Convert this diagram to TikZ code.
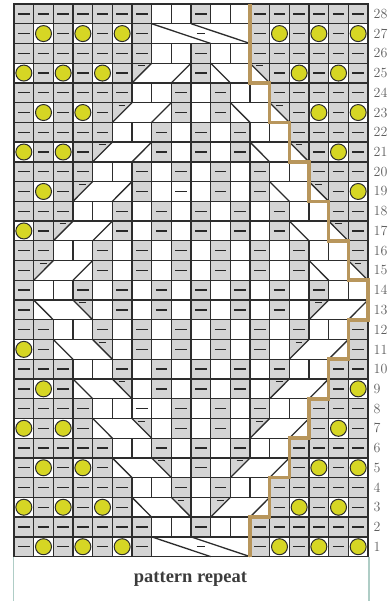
\documentclass[tikz,border=0pt]{standalone}
\usepackage{fontspec}
\newfontfamily\labelfont{Liberation Serif}
\definecolor{purlgray}{RGB}{212,212,212}
\definecolor{gridc}{RGB}{45,45,45}
\definecolor{dashc}{RGB}{40,40,40}
\definecolor{bobc}{RGB}{214,214,36}
\definecolor{goldc}{RGB}{184,150,92}
\definecolor{numc}{RGB}{95,95,95}
\definecolor{framec}{RGB}{175,205,198}
\definecolor{labelc}{RGB}{60,60,60}
\tikzset{
  purlfill/.style={fill=purlgray},
  gridline/.style={draw=gridc, line width=1.3pt},
  borderline/.style={draw=gridc, line width=1.6pt},
  dashmk/.style={draw=dashc, line width=1.4pt},
  smalldash/.style={draw=dashc, line width=1.1pt},
  bobble/.style={fill=bobc, draw=gridc, line width=1pt},
  cableline/.style={draw=gridc, line width=1.3pt},
  repeatline/.style={draw=goldc, line width=3.6pt, line join=miter},
  rownum/.style={anchor=west, text=numc, font=\fontsize{14}{14}\selectfont, inner sep=0pt},
  framel/.style={draw=framec, line width=1.5pt},
}
\newcommand\kcpos[2]{\pgfmathsetmacro\xa{14+(#1-1)*19.667}\pgfmathsetmacro\ya{44.4+(#2-1)*19.736}}
\newcommand\kcP[2]{\kcpos{#1}{#2}\fill[purlfill] (\xa,\ya) rectangle ++(19.667,19.736);\draw[dashmk] (\xa+4.08,\ya+9.87) -- ++(11.5,0);}
\newcommand\kcK[2]{}
\newcommand\kcX[2]{}
\newcommand\kcW[2]{\kcpos{#1}{#2}\draw[dashmk] (\xa+4.08,\ya+9.87) -- ++(11.5,0);}
\newcommand\kcB[2]{\kcpos{#1}{#2}\draw[bobble] (\xa+9.83,\ya+9.87) circle[radius=8];}
\newcommand\kcL[2]{\kcpos{#1}{#2}\fill[purlfill] (\xa,\ya) -- (\xa+19.667,\ya+19.736) -- (\xa,\ya+19.736) -- cycle; \draw[cableline] (\xa,\ya) -- (\xa+19.667,\ya+19.736); \draw[cableline] (\xa+39.333,\ya) -- (\xa+59,\ya+19.736); \draw[smalldash] (\xa+6.3,\ya+17) -- ++(6.7,0);}
\newcommand\kcR[2]{\kcpos{#1}{#2}\fill[purlfill] (\xa+39.333,\ya+19.736) -- (\xa+59,\ya+19.736) -- (\xa+59,\ya) -- cycle; \draw[cableline] (\xa,\ya+19.736) -- (\xa+19.667,\ya); \draw[cableline] (\xa+39.333,\ya+19.736) -- (\xa+59,\ya); \draw[smalldash] (\xa+45.6,\ya+17) -- ++(6.7,0);}
\newcommand\kcF[2]{\kcpos{#1}{#2}\draw[cableline] (\xa,\ya+19.736) -- (\xa+59,\ya); \draw[cableline] (\xa+39.333,\ya+19.736) -- (\xa+98.333,\ya); \draw[smalldash] (\xa+45.1,\ya+9.87) -- ++(8.2,0);}
\newcommand\kvline[2]{\kcpos{#1}{#2}\draw[gridline] (\xa,\ya) -- ++(0,19.736);}
\let\kvP\kvline \let\kvK\kvline \let\kvB\kvline \let\kvW\kvline
\let\kvL\kvline \let\kvR\kvline \let\kvF\kvline
\newcommand\kvX[2]{}
\newcommand\chartrows{%
28/{P,P,P,P,P,P,P,K,K,P,K,K,P,P,P,P,P,P},
27/{P,B,P,B,P,B,P,F,X,X,X,X,P,B,P,B,P,B},
26/{P,P,P,P,P,P,P,K,K,P,K,K,P,P,P,P,P,P},
25/{B,P,B,P,B,P,L,X,X,P,R,X,X,P,B,P,B,P},
24/{P,P,P,P,P,P,K,K,P,K,P,K,K,P,P,P,P,P},
23/{P,B,P,B,P,L,X,X,P,K,P,R,X,X,P,B,P,B},
22/{P,P,P,P,P,K,K,P,K,P,K,P,K,K,P,P,P,P},
21/{B,P,B,P,L,X,X,P,K,P,K,P,R,X,X,P,B,P},
20/{P,P,P,P,K,K,P,K,P,K,P,K,P,K,K,P,P,P},
19/{P,B,P,L,X,X,P,K,W,K,P,K,P,R,X,X,P,B},
18/{P,P,P,K,K,P,K,P,K,P,K,P,K,P,K,K,P,P},
17/{B,P,L,X,X,P,K,P,K,P,K,P,K,P,R,X,X,P},
16/{P,P,K,K,P,K,P,K,P,K,P,K,P,K,P,K,K,P},
15/{P,L,X,X,P,K,P,K,P,K,P,K,P,K,P,R,X,X},
14/{P,K,K,P,K,P,K,P,K,P,K,P,K,P,K,P,K,K},
13/{P,R,X,X,K,P,K,P,K,P,K,P,K,P,K,L,X,X},
12/{P,P,K,K,P,K,P,K,P,K,P,K,P,K,P,K,K,P},
11/{B,P,R,X,X,K,P,K,P,K,P,K,P,K,L,X,X,P},
10/{P,P,P,K,K,P,K,P,K,P,K,P,K,P,K,K,P,P},
9/{P,B,P,R,X,X,K,P,K,P,K,P,K,L,X,X,P,B},
8/{P,P,P,P,K,K,W,K,P,K,P,K,P,K,K,P,P,P},
7/{B,P,B,P,R,X,X,K,P,K,P,K,L,X,X,P,B,P},
6/{P,P,P,P,P,K,K,P,K,P,K,P,K,K,P,P,P,P},
5/{P,B,P,B,P,R,X,X,K,P,K,L,X,X,P,B,P,B},
4/{P,P,P,P,P,P,K,K,P,K,P,K,K,P,P,P,P,P},
3/{B,P,B,P,B,P,R,X,X,K,L,X,X,P,B,P,B,P},
2/{P,P,P,P,P,P,P,K,K,P,K,K,P,P,P,P,P,P},
1/{P,B,P,B,P,B,P,F,X,X,X,X,P,B,P,B,P,B}}
\newcommand\gx[1]{14+#1*19.667}
\begin{document}
\begin{tikzpicture}[x=1pt,y=1pt]
\useasboundingbox (0,0) rectangle (389,601);
\fill[white] (0,0) rectangle (389,601);
% cell contents
\foreach \r/\codes in \chartrows {
  \foreach \c [count=\i] in \codes {
    \csname kc\c\endcsname{\i}{\r}
  }
}
% vertical grid lines
\foreach \r/\codes in \chartrows {
  \foreach \c [count=\i] in \codes {
    \csname kv\c\endcsname{\i}{\r}
  }
}
% horizontal grid lines
\foreach \k in {1,...,27} {
  \draw[gridline] (14,{44.4+\k*19.736}) -- (368,{44.4+\k*19.736});
}
\draw[borderline] (14,44.4) rectangle (368,597);
% frame lines below the chart
\coordinate (fl0) at (13.3,0);
\coordinate (fl1) at (13.3,43.5);
\coordinate (fr0) at (369,0);
\coordinate (fr1) at (369,43.5);
\draw[framel] (fl1) -- (fl0);
\draw[framel] (fr1) -- (fr0);
% pattern repeat boundary
\draw[repeatline]
  ({\gx{12}},597) -- ({\gx{12}},{44.4+24*19.736}) -- ({\gx{13}},{44.4+24*19.736})
  -- ({\gx{13}},{44.4+22*19.736}) -- ({\gx{14}},{44.4+22*19.736})
  -- ({\gx{14}},{44.4+20*19.736}) -- ({\gx{15}},{44.4+20*19.736})
  -- ({\gx{15}},{44.4+18*19.736}) -- ({\gx{16}},{44.4+18*19.736})
  -- ({\gx{16}},{44.4+16*19.736}) -- ({\gx{17}},{44.4+16*19.736})
  -- ({\gx{17}},{44.4+14*19.736}) -- ({\gx{18}},{44.4+14*19.736})
  -- ({\gx{18}},{44.4+12*19.736}) -- ({\gx{17}},{44.4+12*19.736})
  -- ({\gx{17}},{44.4+10*19.736}) -- ({\gx{16}},{44.4+10*19.736})
  -- ({\gx{16}},{44.4+8*19.736}) -- ({\gx{15}},{44.4+8*19.736})
  -- ({\gx{15}},{44.4+6*19.736}) -- ({\gx{14}},{44.4+6*19.736})
  -- ({\gx{14}},{44.4+4*19.736}) -- ({\gx{13}},{44.4+4*19.736})
  -- ({\gx{13}},{44.4+2*19.736}) -- ({\gx{12}},{44.4+2*19.736})
  -- ({\gx{12}},44.4);
% row numbers
\foreach \r in {1,...,28} {
  \node[rownum] (num\r) at (373.5,{44.4+(\r-0.5)*19.736}) {\r};
}
\node[anchor=base, text=labelc, inner sep=0pt, font={\labelfont\bfseries\fontsize{18.5}{20}\selectfont}] (lbl) at (190.5,18.3) {pattern repeat};
\end{tikzpicture}
\end{document}
